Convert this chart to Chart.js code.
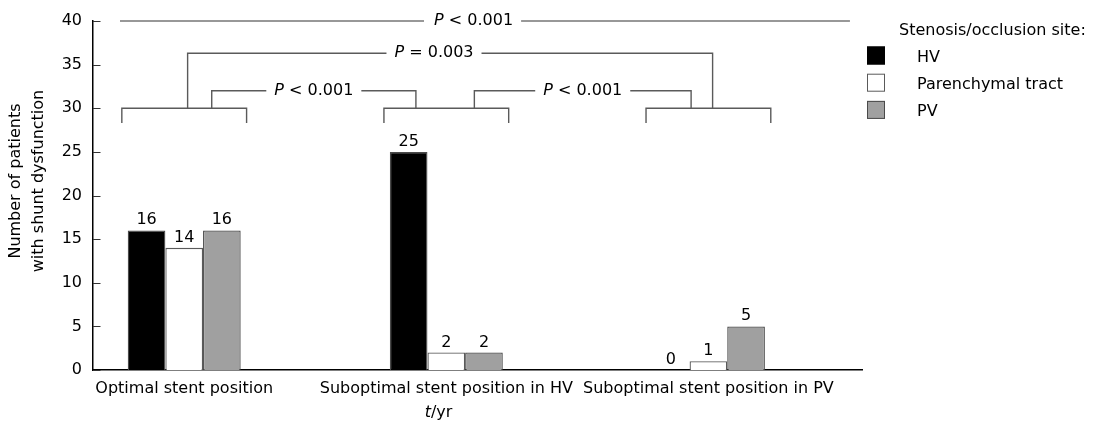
<!DOCTYPE html>
<html>
<head>
<meta charset="utf-8">
<script src="https://cdn.jsdelivr.net/npm/chart.js@4.4.1/dist/chart.umd.min.js"></script>
<style>
  body { margin: 0; background: #fff; }
  canvas { display: block; }
</style>
</head>
<body>
<canvas id="chart" width="1093" height="428"></canvas>
<script>
const categories = ['Optimal stent position', 'Suboptimal stent position in HV', 'Suboptimal stent position in PV'];
const siteLabels = ['HV', 'Parenchymal tract', 'PV'];
const hvCounts = [16, 25, 0];
const tractCounts = [14, 2, 1];
const pvCounts = [16, 2, 5];
const yTicks = [0, 5, 10, 15, 20, 25, 30, 35, 40];

// significance brackets (x in category index units, y in patients)
const groupBracket = { y: 30, legTo: 28.3, half: 0.238 };
const comparisons = [
  { from: 0.105, to: 0.884, y: 32, text: '< 0.001' },
  { from: 1.107, to: 1.934, y: 32, text: '< 0.001' },
  { from: 0.013, to: 2.016, y: 36.3, text: '= 0.003', at: 0.953 },
  { from: -0.245, to: 2.54, y: 40, text: '< 0.001', at: 1.104, open: true }
];

const FAMILY = '"DejaVu Sans", Verdana, sans-serif';
const FONT = '16px ' + FAMILY;
const ITALIC = 'italic 16px ' + FAMILY;

function seg(ctx, pts) {
  ctx.beginPath();
  ctx.moveTo(pts[0][0], pts[0][1]);
  for (let i = 1; i < pts.length; i++) ctx.lineTo(pts[i][0], pts[i][1]);
  ctx.stroke();
}

// draws "P <text>" with italic P, centred on cx; returns [left, right]
function pText(ctx, text, cx, cy) {
  ctx.font = ITALIC;
  const wP = ctx.measureText('P').width;
  ctx.font = FONT;
  const rest = ' ' + text;
  const wR = ctx.measureText(rest).width;
  const left = cx - (wP + wR) / 2;
  ctx.textAlign = 'left';
  ctx.textBaseline = 'middle';
  ctx.font = ITALIC;
  ctx.fillText('P', left, cy);
  ctx.font = FONT;
  ctx.fillText(rest, left + wP, cy);
  return [left, left + wP + wR];
}

const decor = {
  id: 'decor',
  afterDraw(chart) {
    const { ctx, chartArea: area, scales: { x, y } } = chart;
    ctx.save();

    // inward tick marks
    ctx.strokeStyle = '#333';
    ctx.lineWidth = 1;
    yTicks.forEach(v => {
      const py = Math.round(y.getPixelForValue(v)) + 0.5;
      seg(ctx, [[area.left, py], [area.left + 7.5, py]]);
    });

    // value labels
    ctx.fillStyle = '#000';
    ctx.font = FONT;
    ctx.textAlign = 'center';
    ctx.textBaseline = 'alphabetic';
    chart.data.datasets.forEach((ds, di) => {
      chart.getDatasetMeta(di).data.forEach((bar, i) => {
        ctx.fillText(String(ds.data[i].y), bar.x, bar.y - 6);
      });
    });

    // group brackets
    ctx.strokeStyle = '#5a5a5a';
    ctx.lineWidth = 1.4;
    const gy = y.getPixelForValue(groupBracket.y);
    const gb = y.getPixelForValue(groupBracket.legTo);
    categories.forEach((c, i) => {
      const l = x.getPixelForValue(i - groupBracket.half);
      const r = x.getPixelForValue(i + groupBracket.half);
      seg(ctx, [[l, gb], [l, gy], [r, gy], [r, gb]]);
    });

    // comparison brackets
    comparisons.forEach(c => {
      const x1 = x.getPixelForValue(c.from);
      const x2 = x.getPixelForValue(c.to);
      const py = y.getPixelForValue(c.y);
      const cx = x.getPixelForValue(c.at !== undefined ? c.at : (c.from + c.to) / 2);
      ctx.fillStyle = '#000';
      const [tl, tr] = pText(ctx, c.text, cx, py);
      ctx.strokeStyle = c.open ? '#333' : '#5a5a5a';
      ctx.lineWidth = c.open ? 1.2 : 1.4;
      if (c.open) {
        seg(ctx, [[x1, py], [tl - 10, py]]);
        seg(ctx, [[tr + 8, py], [x2, py]]);
      } else {
        seg(ctx, [[x1, gy], [x1, py], [tl - 8, py]]);
        seg(ctx, [[tr + 8, py], [x2, py], [x2, gy]]);
      }
    });

    // legend
    ctx.fillStyle = '#000';
    ctx.font = FONT;
    ctx.textAlign = 'left';
    ctx.textBaseline = 'middle';
    ctx.fillText('Stenosis/occlusion site:', 899, 31);
    chart.data.datasets.forEach((ds, i) => {
      const cy = 55.5 + i * 27.2;
      ctx.fillStyle = ds.backgroundColor;
      ctx.fillRect(867, cy - 9, 18, 18);
      ctx.strokeStyle = ds.legendBorder;
      ctx.lineWidth = 1;
      ctx.strokeRect(867.5, cy - 8.5, 17, 17);
      ctx.fillStyle = '#000';
      ctx.fillText(ds.label, 917, cy + 2);
    });

    // axis titles
    ctx.save();
    ctx.translate(0, 181);
    ctx.rotate(-Math.PI / 2);
    ctx.textAlign = 'center';
    ctx.textBaseline = 'middle';
    ctx.fillText('Number of patients', 0, 16);
    ctx.fillText('with shunt dysfunction', 0, 39);
    ctx.restore();

    ctx.font = ITALIC;
    const wt = ctx.measureText('t').width;
    ctx.font = FONT;
    const wr = ctx.measureText('/yr').width;
    const lx = 438.5 - (wt + wr) / 2;
    ctx.textAlign = 'left';
    ctx.font = ITALIC;
    ctx.fillText('t', lx, 413);
    ctx.font = FONT;
    ctx.fillText('/yr', lx + wt, 413);

    ctx.restore();
  }
};

const toPoints = arr => arr.map((v, i) => ({ x: i, y: v }));

new Chart(document.getElementById('chart'), {
  type: 'bar',
  data: {
    datasets: [
      { label: siteLabels[0], data: toPoints(hvCounts), backgroundColor: '#000000', borderColor: '#4a4a4a', legendBorder: '#000000' },
      { label: siteLabels[1], data: toPoints(tractCounts), backgroundColor: '#ffffff', borderColor: '#5a5a5a', legendBorder: '#5a5a5a' },
      { label: siteLabels[2], data: toPoints(pvCounts), backgroundColor: '#a0a0a0', borderColor: '#4a4a4a', legendBorder: '#4a4a4a' }
    ].map(d => Object.assign(d, { borderWidth: 1.3, borderSkipped: 'bottom', categoryPercentage: 0.431, barPercentage: 1 }))
  },
  options: {
    responsive: false,
    animation: false,
    layout: { padding: { top: 21, right: 231, left: 0, bottom: 0 } },
    plugins: { legend: { display: false }, tooltip: { enabled: false } },
    scales: {
      x: {
        type: 'linear',
        min: -0.348,
        max: 2.586,
        offset: false,
        grid: { display: false, drawTicks: false },
        border: { display: true, color: '#000', width: 1.5 },
        afterBuildTicks: s => { s.ticks = categories.map((c, i) => ({ value: i })); },
        afterFit: s => { s.height = 58; },
        ticks: {
          autoSkip: false,
          maxRotation: 0,
          padding: 9,
          color: '#000',
          font: { family: FAMILY, size: 16 },
          callback: v => categories[v]
        }
      },
      y: {
        min: 0,
        max: 40,
        grid: { display: false, drawTicks: false },
        border: { display: true, color: '#000', width: 1.5 },
        afterBuildTicks: s => { s.ticks = yTicks.map(v => ({ value: v })); },
        afterFit: s => { s.width = 93; },
        ticks: {
          padding: 11,
          color: '#000',
          font: { family: FAMILY, size: 16 }
        }
      }
    }
  },
  plugins: [decor]
});
</script>
</body>
</html>
